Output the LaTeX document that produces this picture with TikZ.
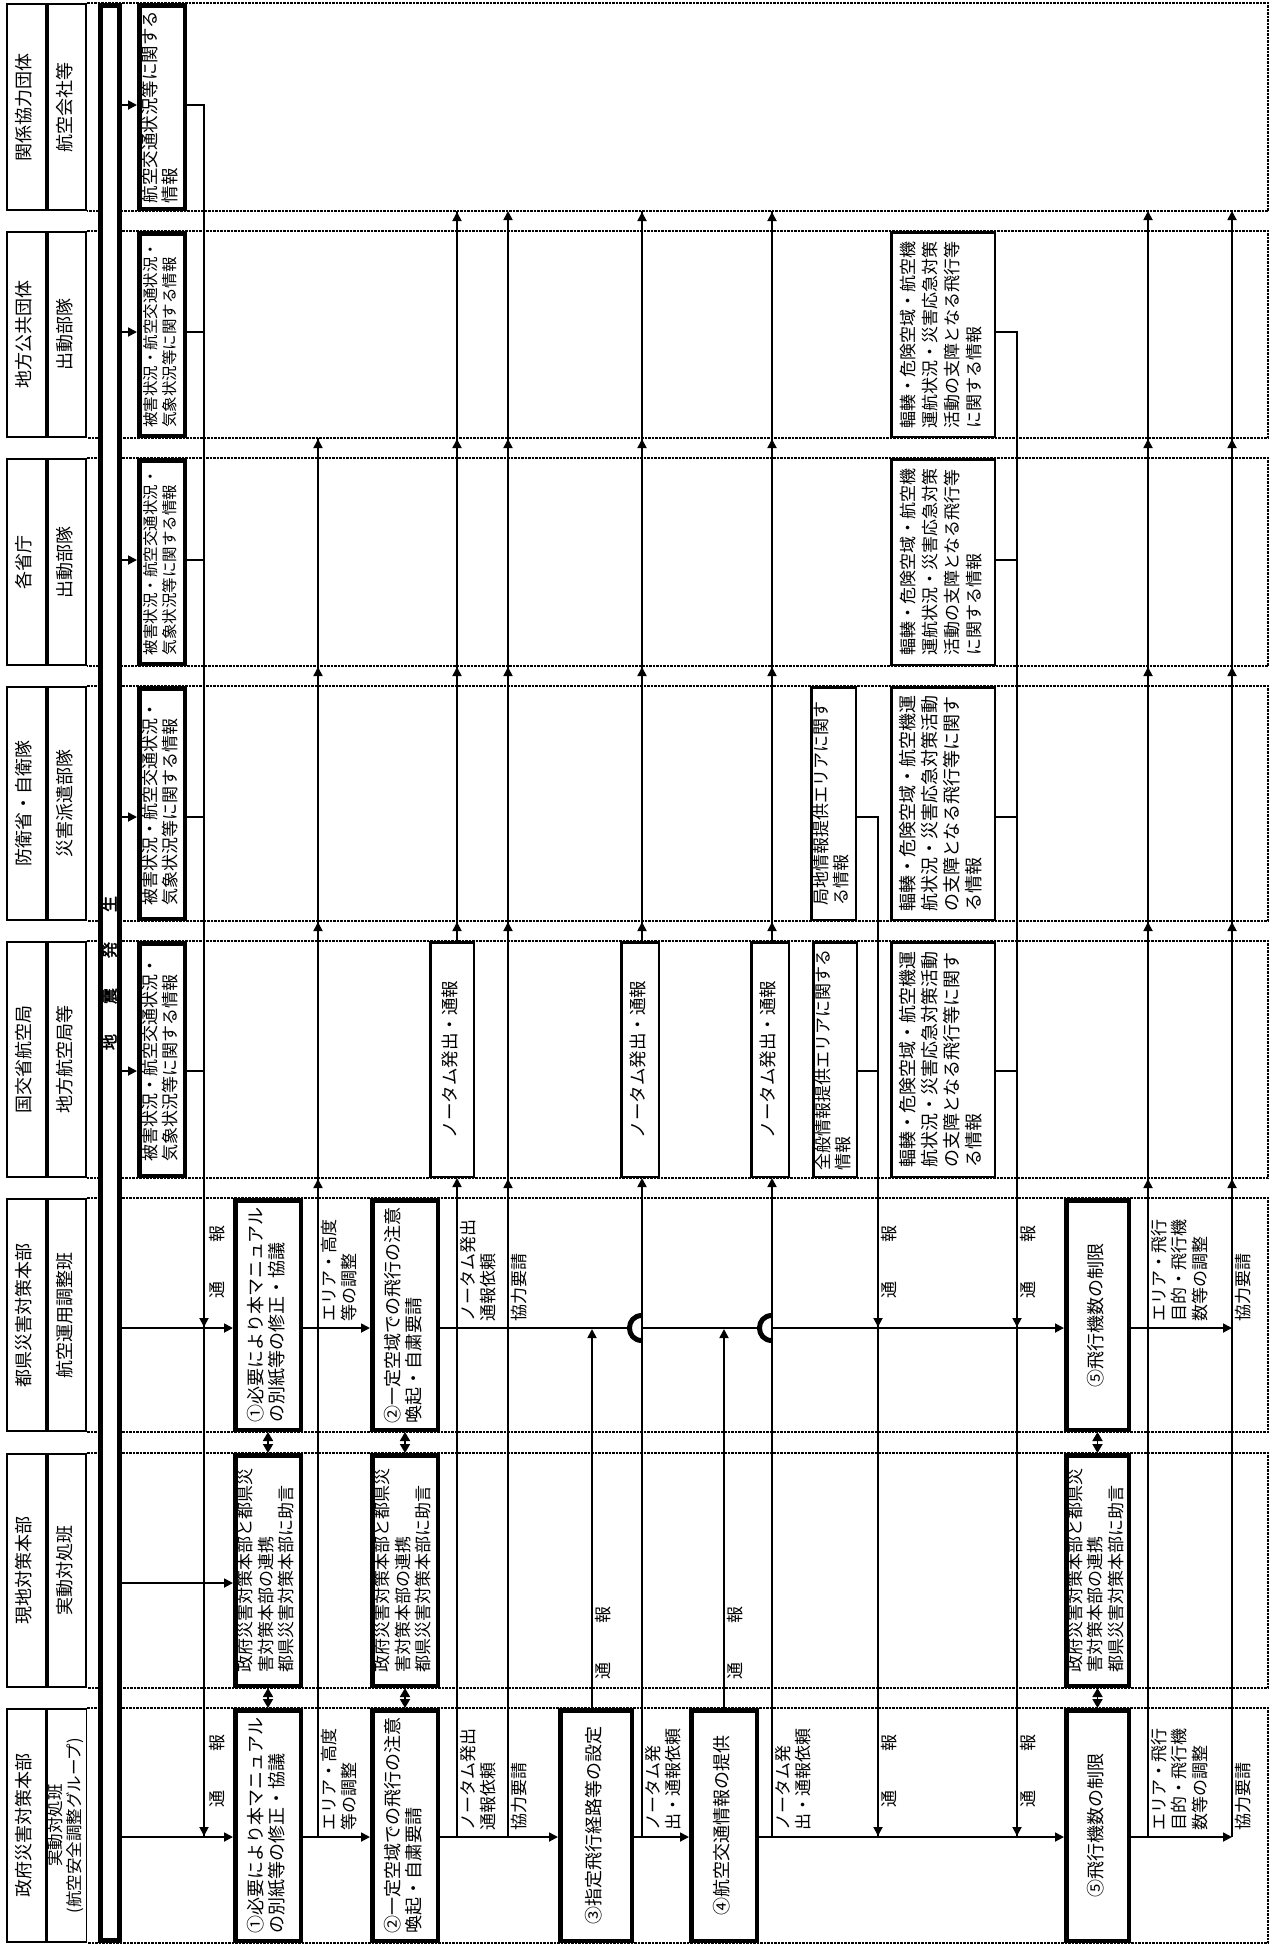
\documentclass[tikz,border=0pt]{standalone}
\usepackage{fontspec}
\usepackage{graphicx}
\newfontfamily\jp{Noto Sans CJK JP}
\newfontfamily\jpb[FakeBold=2.5]{Noto Sans CJK JP}
\usetikzlibrary{arrows.meta}
\newcommand{\vt}[1]{\rotatebox{90}{\begin{tabular}{@{}l@{}}#1\end{tabular}}}
\newcommand{\vc}[1]{\rotatebox{90}{\begin{tabular}{@{}c@{}}#1\end{tabular}}}
\newcommand{\tsuho}{\rotatebox{90}{通\hspace{39pt}報}}
\newcommand{\fsz}[2]{\fontsize{#1}{#2}\selectfont}
\begin{document}
\begin{tikzpicture}[x=1pt,y=-1pt,
  hdr/.style={draw,line width=1.8pt,inner sep=0pt,font=\jp\fsz{18}{22}},
  tb/.style={draw,line width=4.5pt,fill=white,inner sep=0pt,font=\jp\fsz{18}{20}},
  mb/.style={draw,line width=2.5pt,fill=white,inner sep=0pt,font=\jp\fsz{17.5}{21}},
  lab/.style={inner sep=0pt,font=\jp\fsz{17}{20}},
  ln/.style={line width=1.8pt},
  arr/.style={line width=1.8pt,-{Triangle[length=9pt,width=9pt]}},
  dbl/.style={line width=1.8pt,{Triangle[length=9pt,width=10pt]}-{Triangle[length=9pt,width=10pt]}},
  lanebd/.style={line width=1.4pt,dash pattern=on 2.5pt off 1pt},
  bump/.style={line width=5pt}
]
\useasboundingbox (0,0) rectangle (1271,1944);
% lanes
\foreach \t/\b in {3/211,231/438,458/666,686/921,941/1178,1198/1432,1453/1688,1708/1943}
  \draw[lanebd] (87,\t) -- (1268,\t) -- (1268,\b) -- (87,\b);
% headers
\node[hdr,minimum width=39.2,minimum height=206.2] (hA8) at (26.5,107) {\vc{関係協力団体}};
\node[hdr,minimum width=38.2,minimum height=206.2] (hB8) at (67,107) {\vc{航空会社等}};
\node[hdr,minimum width=39.2,minimum height=205.2] (hA7) at (26.5,334.5) {\vc{地方公共団体}};
\node[hdr,minimum width=38.2,minimum height=205.2] (hB7) at (67,334.5) {\vc{出動部隊}};
\node[hdr,minimum width=39.2,minimum height=206.2] (hA6) at (26.5,562) {\vc{各省庁}};
\node[hdr,minimum width=38.2,minimum height=206.2] (hB6) at (67,562) {\vc{出動部隊}};
\node[hdr,minimum width=39.2,minimum height=233.2] (hA5) at (26.5,803.5) {\vc{防衛省・自衛隊}};
\node[hdr,minimum width=38.2,minimum height=233.2] (hB5) at (67,803.5) {\vc{災害派遣部隊}};
\node[hdr,minimum width=39.2,minimum height=235.2] (hA4) at (26.5,1059.5) {\vc{国交省航空局}};
\node[hdr,minimum width=38.2,minimum height=235.2] (hB4) at (67,1059.5) {\vc{地方航空局等}};
\node[hdr,minimum width=39.2,minimum height=232.2] (hA3) at (26.5,1315) {\vc{都県災害対策本部}};
\node[hdr,minimum width=38.2,minimum height=232.2] (hB3) at (67,1315) {\vc{航空運用調整班}};
\node[hdr,minimum width=39.2,minimum height=233.2] (hA2) at (26.5,1570.5) {\vc{現地対策本部}};
\node[hdr,minimum width=38.2,minimum height=233.2] (hB2) at (67,1570.5) {\vc{実動対処班}};
\node[hdr,minimum width=39.2,minimum height=233.2] (hA1) at (26.5,1825.5) {\vc{政府災害対策本部}};
\node[hdr,minimum width=38.2,minimum height=233.2,font=\jp\fsz{16.5}{19}] (hB1) at (67,1825.5) {\vc{実動対処班\\(航空安全調整グループ)}};
% earthquake bar
\node[draw,line width=5pt,fill=white,inner sep=0pt,minimum width=19,minimum height=1935,
  font=\jpb\fsz{16}{18}] (bar) at (109.5,973)
  {\rotatebox{90}{地\hspace{30pt}震\hspace{30pt}発\hspace{30pt}生}};
% rows
\coordinate (r8) at (0,105);
\coordinate (r7) at (0,332);
\coordinate (r6) at (0,560);
\coordinate (r5) at (0,817);
\coordinate (r4) at (0,1071);
\coordinate (r3) at (0,1328);
\coordinate (r2) at (0,1583);
\coordinate (r1) at (0,1837);
% info boxes
\node[tb,minimum width=45.5,minimum height=203.5,font=\jp\fsz{17.5}{19}] (i8) at (162,107) {\vt{航空交通状況等に関する\\情報}};
\node[tb,minimum width=45.5,minimum height=202.5,font=\jp\fsz{15.5}{19}] (i7) at (162,334.5) {\vt{被害状況・航空交通状況・\\気象状況等に関する情報}};
\node[tb,minimum width=45.5,minimum height=203.5,font=\jp\fsz{15.5}{19}] (i6) at (162,562) {\vt{被害状況・航空交通状況・\\気象状況等に関する情報}};
\node[tb,minimum width=45.5,minimum height=230.5,font=\jp\fsz{17}{19}] (i5) at (162,803.5) {\vt{被害状況・航空交通状況・\\気象状況等に関する情報}};
\node[tb,minimum width=45.5,minimum height=232.5,font=\jp\fsz{17}{19}] (i4) at (162,1059.5) {\vt{被害状況・航空交通状況・\\気象状況等に関する情報}};
% L3 boxes
\node[tb,minimum width=65.5,minimum height=229.5] (b3a) at (268,1315) {\vt{①必要により本マニュアル\\の別紙等の修正・協議}};
\node[tb,minimum width=65.5,minimum height=229.5] (b3b) at (405,1315) {\vt{②一定空域での飛行の注意\\喚起・自粛要請}};
\node[tb,minimum width=62.5,minimum height=229.5] (b3c) at (1097.5,1315) {\vc{⑤飛行機数の制限}};
% L2 boxes
\node[tb,minimum width=65.5,minimum height=230.5,font=\jp\fsz{17}{20}] (c2a) at (268,1570.5) {\vt{政府災害対策本部と都県災\\害対策本部の連携\\都県災害対策本部に助言}};
\node[tb,minimum width=65.5,minimum height=230.5,font=\jp\fsz{17}{20}] (c2b) at (405,1570.5) {\vt{政府災害対策本部と都県災\\害対策本部の連携\\都県災害対策本部に助言}};
\node[tb,minimum width=62.5,minimum height=230.5,font=\jp\fsz{17}{20}] (c2c) at (1097.5,1570.5) {\vt{政府災害対策本部と都県災\\害対策本部の連携\\都県災害対策本部に助言}};
% L1 boxes
\node[tb,minimum width=65.5,minimum height=230.5] (d1a) at (268,1825.5) {\vt{①必要により本マニュアル\\の別紙等の修正・協議}};
\node[tb,minimum width=65.5,minimum height=230.5] (d1b) at (405,1825.5) {\vt{②一定空域での飛行の注意\\喚起・自粛要請}};
\node[tb,minimum width=71.5,minimum height=230.5] (d1c) at (596,1825.5) {\vc{③指定飛行経路等の設定}};
\node[tb,minimum width=65.5,minimum height=230.5] (d1d) at (724,1825.5) {\vc{④航空交通情報の提供}};
\node[tb,minimum width=62.5,minimum height=230.5] (d1e) at (1097.5,1825.5) {\vc{⑤飛行機数の制限}};
% L4 boxes
\node[mb,minimum width=43.5,minimum height=234.5] (n1) at (452,1059.5) {\vc{ノータム発出・通報}};
\node[mb,minimum width=37.5,minimum height=234.5] (n2) at (640,1059.5) {\vc{ノータム発出・通報}};
\node[mb,minimum width=37.5,minimum height=234.5] (n3) at (770,1059.5) {\vc{ノータム発出・通報}};
\node[mb,minimum width=43.5,minimum height=234.5,font=\jp\fsz{17}{19}] (z4) at (835,1059.5) {\vt{全般情報提供エリアに関する\\情報}};
\node[mb,minimum width=103.5,minimum height=234.5,font=\jp\fsz{18}{22}] (f4) at (943,1059.5) {\vt{輻輳・危険空域・航空機運\\航状況・災害応急対策活動\\の支障となる飛行等に関す\\る情報}};
% L5 boxes
\node[mb,minimum width=44.5,minimum height=232.5,font=\jp\fsz{17}{19}] (k5) at (833.5,803.5) {\vt{局地情報提供エリアに関す\\る情報}};
\node[mb,minimum width=103.5,minimum height=232.5,font=\jp\fsz{18}{22}] (f5) at (943,803.5) {\vt{輻輳・危険空域・航空機運\\航状況・災害応急対策活動\\の支障となる飛行等に関す\\る情報}};
% L6, L7 boxes
\node[mb,minimum width=103.5,minimum height=205.5,font=\jp\fsz{17}{22}] (f6) at (943,562) {\vt{輻輳・危険空域・航空機\\運航状況・災害応急対策\\活動の支障となる飛行等\\に関する情報}};
\node[mb,minimum width=103.5,minimum height=204.5,font=\jp\fsz{17}{22}] (f7) at (943,334.5) {\vt{輻輳・危険空域・航空機\\運航状況・災害応急対策\\活動の支障となる飛行等\\に関する情報}};
% arrows from the bar
\foreach \n/\r in {i8/r8,i7/r7,i6/r6,i5/r5,i4/r4}
  \draw[arr] (bar.east |- \r) -- (\n.west |- \r);
\draw[arr] (bar.east |- r3) -- (b3a.west |- r3);
\draw[arr] (bar.east |- r2) -- (c2a.west |- r2);
\draw[arr] (bar.east |- r1) -- (d1a.west |- r1);
% D1 collecting line
\coordinate (xd1) at (204,0);
\draw[ln] (i8.east |- r8) -| (xd1 |- r1);
\foreach \n/\r in {i7/r7,i6/r6,i5/r5,i4/r4}
  \draw[ln] (\n.east |- \r) -- (xd1 |- \r);
% D2, D3
\coordinate (xd2) at (878,0);
\coordinate (xd3) at (1017,0);
\draw[ln] (k5.east |- r5) -| (xd2 |- r1);
\draw[ln] (z4.east |- r4) -- (xd2 |- r4);
\draw[ln] (f7.east |- r7) -| (xd3 |- r1);
\foreach \n/\r in {f6/r6,f5/r5,f4/r4}
  \draw[ln] (\n.east |- \r) -- (xd3 |- \r);
\foreach \x in {204,878,1017} {
  \draw[arr] (\x,1312) -- (\x,1327);
  \draw[arr] (\x,1821) -- (\x,1836);
}
% L3 main flow
\draw[arr] (b3a.east |- r3) -- (b3b.west |- r3);
\draw[ln] (b3b.east |- r3) -- (629.5,1328);
\draw[ln] (642,1328) -- (759.5,1328);
\draw[arr] (772,1328) -- (b3c.west |- r3);
\draw[arr] (b3c.east |- r3) -- (1232,1328);
\draw[bump] (642,1315.5) .. controls (625.3,1315.5) and (625.3,1340.5) .. (642,1340.5);
\draw[bump] (772,1315.5) .. controls (755.3,1315.5) and (755.3,1340.5) .. (772,1340.5);
% L1 main flow
\draw[arr] (d1a.east |- r1) -- (d1b.west |- r1);
\draw[arr] (d1b.east |- r1) -- (d1c.west |- r1);
\draw[arr] (d1c.east |- r1) -- (d1d.west |- r1);
\draw[arr] (d1d.east |- r1) -- (d1e.west |- r1);
\draw[arr] (d1e.east |- r1) -- (1232,1837);
% double arrows between lanes
\foreach \a/\b in {b3a/c2a,c2a/d1a,b3b/c2b,c2b/d1b,b3c/c2c,c2c/d1e}
  \draw[dbl] (\a.south) -- (\b.north);
% upward lines
\draw[ln] (318,1837) -- (318,438);
\foreach \y in {1178,921,666,438} \draw[arr] (318,\y+13) -- (318,\y+1);
\draw[arr] (457,1837) -- (n1.south -| 457,0);
\draw[ln] (n1.north -| 457,0) -- (457,211);
\draw[arr] (508,1837) -- (508,211);
\foreach \y in {1178,921,666,438} \draw[arr] (508,\y+13) -- (508,\y+1);
\draw[arr] (d1c.north -| 592,0) -- (592,1329);
\draw[arr] (642,1837) -- (n2.south -| 642,0);
\draw[ln] (n2.north -| 642,0) -- (642,211);
\draw[arr] (d1d.north -| 724,0) -- (724,1329);
\draw[arr] (772,1837) -- (n3.south -| 772,0);
\draw[ln] (n3.north -| 772,0) -- (772,211);
\foreach \x in {457,642,772} {
  \foreach \y in {921,666,438,211} \draw[arr] (\x,\y+13) -- (\x,\y+1);
}
\draw[arr] (1148,1837) -- (1148,211);
\foreach \y in {1178,921,666,438} \draw[arr] (1148,\y+13) -- (1148,\y+1);
\draw[arr] (1232,1837) -- (1232,211);
\foreach \y in {1178,921,666,438} \draw[arr] (1232,\y+13) -- (1232,\y+1);
% labels L3
\node[lab] (t3a) at (217,1262) {\tsuho};
\node[lab,anchor=south west] (t3b) at (321,1322) {\vt{エリア・高度\\等の調整}};
\node[lab,anchor=south west] (t3c) at (460,1322) {\vt{ノータム発出\\通報依頼}};
\node[lab,anchor=south west] (t3d) at (511,1322) {\vt{協力要請}};
\node[lab] (t3e) at (889,1262) {\tsuho};
\node[lab] (t3f) at (1028,1262) {\tsuho};
\node[lab,anchor=south west] (t3g) at (1151,1322) {\vt{エリア・飛行\\目的・飛行機\\数等の調整}};
\node[lab,anchor=south west] (t3h) at (1235,1322) {\vt{協力要請}};
% labels L2
\node[lab] (t2a) at (603,1643) {\tsuho};
\node[lab] (t2b) at (735,1643) {\tsuho};
% labels L1
\node[lab] (t1a) at (217,1771) {\tsuho};
\node[lab,anchor=south west] (t1b) at (321,1831) {\vt{エリア・高度\\等の調整}};
\node[lab,anchor=south west] (t1c) at (460,1831) {\vt{ノータム発出\\通報依頼}};
\node[lab,anchor=south west] (t1d) at (511,1831) {\vt{協力要請}};
\node[lab,anchor=south west] (t1e) at (645,1831) {\vt{ノータム発\\出・通報依頼}};
\node[lab,anchor=south west] (t1f) at (775,1831) {\vt{ノータム発\\出・通報依頼}};
\node[lab] (t1g) at (889,1771) {\tsuho};
\node[lab] (t1h) at (1028,1771) {\tsuho};
\node[lab,anchor=south west] (t1i) at (1151,1831) {\vt{エリア・飛行\\目的・飛行機\\数等の調整}};
\node[lab,anchor=south west] (t1j) at (1235,1831) {\vt{協力要請}};
\end{tikzpicture}
\end{document}
